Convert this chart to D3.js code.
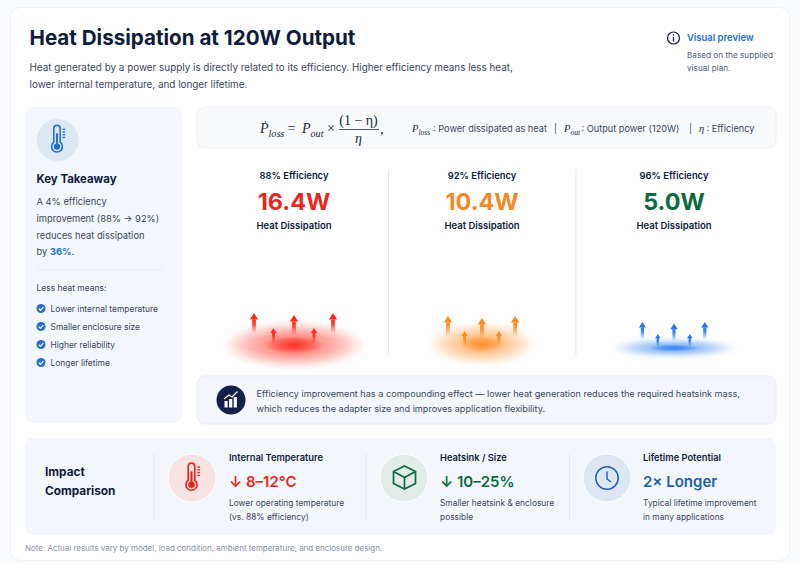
<!DOCTYPE html>
<html>
  <head>
    <meta charset="utf-8">
    <title>Heat Dissipation at 120W Output</title>
    <script src="https://d3js.org/d3.v7.min.js"></script>
    <style type="text/css">
      html, body { margin: 0; padding: 0; background: #f9fafc; }
      svg { display: block; font-family: 'Inter', sans-serif; }
    </style>
  </head>
  <body>
    <svg id="chart" width="800" height="564"></svg>
    <script type="text/javascript">
      var efficiencies = ['88% Efficiency', '92% Efficiency', '96% Efficiency'];
      var heatWatts = [16.4, 10.4, 5.0];
      var heatColors = ['#e8261c', '#f08a24', '#0b6b3f'];
      var glowColors = ['#ff2a1a', '#ff8a1c', '#1f78f0'];
      var benefits = ['Lower internal temperature', 'Smaller enclosure size', 'Higher reliability', 'Longer lifetime'];
      var impactTitles = ['Internal Temperature', 'Heatsink / Size', 'Lifetime Potential'];
      var impactValues = ['↓ 8–12°C', '↓ 10–25%', '2× Longer'];
      var impactNotes = [
        ['Lower operating temperature', '(vs. 88% efficiency)'],
        ['Smaller heatsink & enclosure', 'possible'],
        ['Typical lifetime improvement', 'in many applications']
      ];
      var impactColors = ['#e8261c', '#0b6b3f', '#1c5fb4'];
      var impactBacks = ['#f8e3e3', '#e2ece8', '#dde7f3'];

      var ink = '#101b3c';
      var body = '#3b465f';
      var svg = d3.select('#chart');
      var defs = svg.append('defs');

      function box (x, y, w, h, r, fill, stroke) {
        return svg.append('rect').attr('x', x).attr('y', y).attr('width', w).attr('height', h)
          .attr('rx', r).attr('fill', fill).attr('stroke', stroke || 'none');
      }

      function label (g, x, y, str, size, weight, color, anchor) {
        return g.append('text').attr('x', x).attr('y', y).text(str)
          .attr('font-size', size).attr('font-weight', weight).attr('fill', color)
          .attr('text-anchor', anchor || 'start');
      }

      // card and panels
      box(10.5, 7.5, 779, 553, 10, '#fefefe', '#edf0f5');
      box(25, 107, 157, 316, 8, '#f3f6fb');
      box(197, 107, 579, 41, 8, '#f8f9fb', '#edf0f4');
      box(197, 376, 579, 48, 8, '#f4f6fb', '#e9edf5');
      box(25, 438, 751, 97, 8, '#f3f6fb');

      // header
      label(svg, 29.5, 44.5, 'Heat Dissipation at 120W Output', 20.6, 700, ink);
      label(svg, 29.5, 71, 'Heat generated by a power supply is directly related to its efficiency. Higher efficiency means less heat,', 9.9, 400, body);
      label(svg, 29.5, 87.5, 'lower internal temperature, and longer lifetime.', 9.9, 400, body);

      svg.append('circle').attr('cx', 673.5).attr('cy', 38).attr('r', 6).attr('fill', 'none').attr('stroke', ink).attr('stroke-width', 1.2);
      svg.append('line').attr('x1', 673.5).attr('x2', 673.5).attr('y1', 37).attr('y2', 41.5).attr('stroke', ink).attr('stroke-width', 1.3);
      svg.append('circle').attr('cx', 673.5).attr('cy', 35).attr('r', 0.8).attr('fill', ink);
      label(svg, 687, 41, 'Visual preview', 9.45, 600, '#1f6fd6');
      label(svg, 687, 58, 'Based on the supplied', 8.2, 400, '#566076');
      label(svg, 687, 71, 'visual plan.', 8.2, 400, '#566076');

      // thermometer icon, shared by the takeaway panel and the impact row
      function thermometer (g, cx, cy, color, s) {
        var t = g.append('g').attr('transform', 'translate(' + cx + ',' + cy + ') scale(' + s + ')');
        t.append('path')
          .attr('d', 'M-4,-13 a4,4 0 0 1 8,0 V4 a6.8,6.8 0 1 1 -8,0 Z')
          .attr('fill', 'none').attr('stroke', color).attr('stroke-width', 2);
        t.append('circle').attr('cx', 0).attr('cy', 9.5).attr('r', 4).attr('fill', color);
        t.append('rect').attr('x', -1.3).attr('y', -7).attr('width', 2.6).attr('height', 15).attr('fill', color);
        d3.range(4).forEach(function (i) {
          t.append('rect').attr('x', 7).attr('y', -13 + i * 3.4).attr('width', 3.2).attr('height', 1.7).attr('fill', color);
        });
      }

      // key takeaway
      svg.append('circle').attr('cx', 57.5).attr('cy', 140).attr('r', 21).attr('fill', '#dde7f3');
      thermometer(svg, 57, 139, '#2370d0', 0.8);
      label(svg, 36.5, 182.5, 'Key Takeaway', 11.4, 700, ink);
      label(svg, 36.5, 205, 'A 4% efficiency', 9.35, 400, body);
      label(svg, 36.5, 222, 'improvement (88% → 92%)', 9.35, 400, body);
      label(svg, 36.5, 238.5, 'reduces heat dissipation', 9.35, 400, body);
      var last = label(svg, 36.5, 255, 'by ', 9.35, 400, body);
      last.append('tspan').text('36%').attr('font-weight', 700).attr('fill', '#2370d0');
      last.append('tspan').text('.');
      svg.append('line').attr('x1', 36.5).attr('x2', 163).attr('y1', 270).attr('y2', 270).attr('stroke', '#e8ecf3');
      label(svg, 36.5, 291, 'Less heat means:', 8.45, 400, body);

      var benefitY = d3.scalePoint().domain(benefits).range([308.5, 362.5]);
      var benefit = svg.selectAll('g.benefit').data(benefits).enter().append('g').attr('class', 'benefit')
        .attr('transform', function (d) { return 'translate(0,' + benefitY(d) + ')'; });
      benefit.append('circle').attr('cx', 41).attr('cy', 0).attr('r', 4.5).attr('fill', '#2370d0');
      benefit.append('path').attr('d', 'M38.8,0.1 L40.5,1.8 L43.3,-1.4').attr('fill', 'none').attr('stroke', '#fff').attr('stroke-width', 1.2);
      benefit.append('text').attr('x', 50.5).attr('y', 3.2).text(function (d) { return d; })
        .attr('font-size', 8.43).attr('fill', body);

      // formula
      var math = "'Liberation Serif', serif";
      function formula (x, y, size, main, sub) {
        var t = label(svg, x, y, main, size, 400, '#222a3c').attr('font-family', math).attr('font-style', 'italic');
        t.append('tspan').text(sub).attr('font-size', size * 0.72).attr('dy', size * 0.25);
        return t;
      }
      formula(260, 133, 14, 'Ṗ', 'loss');
      label(svg, 287.5, 133, '=', 14, 400, '#222a3c').attr('font-family', math);
      formula(302, 133, 14, 'P', 'out');
      label(svg, 327, 133, '×', 14, 400, '#222a3c').attr('font-family', math);
      label(svg, 358.5, 125, '(1 − η)', 14, 400, '#222a3c', 'middle').attr('font-family', math);
      svg.append('line').attr('x1', 339).attr('x2', 379).attr('y1', 129.5).attr('y2', 129.5).attr('stroke', '#222a3c').attr('stroke-width', 0.8);
      label(svg, 358.5, 143, 'η', 14, 400, '#222a3c', 'middle').attr('font-family', math).attr('font-style', 'italic');
      label(svg, 380, 134, ',', 14, 400, '#222a3c').attr('font-family', math);

      formula(412, 132, 10.5, 'P', 'loss');
      label(svg, 433, 132, ': Power dissipated as heat', 9.2, 400, body);
      label(svg, 554, 132, '|', 9.2, 400, body);
      formula(564, 132, 10.5, 'P', 'out');
      label(svg, 581.5, 132, ': Output power (120W)', 9.2, 400, body);
      label(svg, 689, 132, '|', 9.2, 400, body);
      formula(699, 132, 10.5, 'η', '');
      label(svg, 706.5, 132, ': Efficiency', 9.2, 400, body);

      // efficiency columns
      var columnX = d3.scaleOrdinal().domain(efficiencies).range([294, 482, 674]);
      var glowRx = d3.scaleOrdinal().domain(efficiencies).range([70, 53, 62]);
      var glowRy = d3.scaleOrdinal().domain(efficiencies).range([23, 21, 9]);
      var glowY = d3.scaleOrdinal().domain(efficiencies).range([345, 344, 348]);

      defs.append('filter').attr('id', 'soft').attr('x', '-20%').attr('y', '-40%').attr('width', '140%').attr('height', '180%')
        .append('feGaussianBlur').attr('stdDeviation', 2.5);

      [388.5, 576].forEach(function (x) {
        svg.append('line').attr('x1', x).attr('x2', x).attr('y1', 170).attr('y2', 355).attr('stroke', '#e8ebf1');
      });

      efficiencies.forEach(function (name, i) {
        var g = svg.append('g');
        var x = columnX(name);
        label(g, x, 179, name, 9.4, 600, ink, 'middle');
        label(g, x, 210, heatWatts[i].toFixed(1) + 'W', 23.4, 700, heatColors[i], 'middle');
        label(g, x, 229, 'Heat Dissipation', 9.5, 600, ink, 'middle');

        var grad = defs.append('radialGradient').attr('id', 'glow' + i);
        grad.append('stop').attr('offset', '0%').attr('stop-color', glowColors[i]).attr('stop-opacity', 0.8);
        grad.append('stop').attr('offset', '35%').attr('stop-color', glowColors[i]).attr('stop-opacity', 0.52);
        grad.append('stop').attr('offset', '70%').attr('stop-color', glowColors[i]).attr('stop-opacity', 0.28);
        grad.append('stop').attr('offset', '100%').attr('stop-color', glowColors[i]).attr('stop-opacity', 0);
        g.append('ellipse').attr('cx', x).attr('cy', glowY(name)).attr('rx', glowRx(name)).attr('ry', glowRy(name))
          .attr('fill', 'url(#glow' + i + ')').attr('filter', 'url(#soft)');
        g.append('ellipse').attr('cx', x).attr('cy', glowY(name)).attr('rx', glowRx(name) * 0.42).attr('ry', glowRy(name) * 0.38)
          .attr('fill', 'url(#glow' + i + ')');
        if (i === 0) {
          g.append('ellipse').attr('cx', x).attr('cy', glowY(name)).attr('rx', 51).attr('ry', 9)
            .attr('fill', 'none').attr('stroke', glowColors[i]).attr('stroke-opacity', 0.05);
        }

        var fade = defs.append('linearGradient').attr('id', 'fade' + i).attr('x1', 0).attr('x2', 0).attr('y1', 0).attr('y2', 1);
        fade.append('stop').attr('offset', '0%').attr('stop-color', glowColors[i]);
        fade.append('stop').attr('offset', '35%').attr('stop-color', glowColors[i]).attr('stop-opacity', 0.85);
        fade.append('stop').attr('offset', '100%').attr('stop-color', glowColors[i]).attr('stop-opacity', 0);

        // five arrows rising from the heat spot
        var s = i === 2 ? 0.85 : 1;
        var top = i === 0 ? 313 : (i === 1 ? 316 : 322);
        [[-40, 0, 1], [-20.5, 15, 0.75], [0, 2, 1], [20, 15, 0.75], [39, 0, 1]].forEach(function (a) {
          var ax = x + a[0] * (i === 0 ? 1 : (i === 1 ? 0.85 : 0.79));
          var ay = top + a[1] * (i === 2 ? 0.8 : 1);
          var k = a[2] * s;
          g.append('path').attr('d', 'M' + ax + ',' + ay + ' l' + (4.2 * k) + ',' + (6.5 * k) + ' h' + (-8.4 * k) + ' Z').attr('fill', glowColors[i]);
          g.append('rect').attr('x', ax - 1.9 * k).attr('y', ay + 6.5 * k).attr('width', 3.8 * k).attr('height', 14 * k)
            .attr('fill', 'url(#fade' + i + ')');
        });
      });

      // callout
      svg.append('circle').attr('cx', 231).attr('cy', 400).attr('r', 14.5).attr('fill', '#12204a');
      d3.range(3).forEach(function (i) {
        svg.append('rect').attr('x', 224.5 + i * 4.6).attr('y', 401 - i * 2).attr('width', 3.2).attr('height', 6.5 + i * 2).attr('fill', '#fff');
      });
      svg.append('path').attr('d', 'M224,399 L229,395 L232,397 L237.5,391.5').attr('fill', 'none').attr('stroke', '#fff').attr('stroke-width', 1.2);
      label(svg, 256.5, 396.5, 'Efficiency improvement has a compounding effect — lower heat generation reduces the required heatsink mass,', 9.15, 400, body);
      label(svg, 256.5, 411.5, 'which reduces the adapter size and improves application flexibility.', 9.15, 400, body);

      // impact comparison
      label(svg, 45, 476, 'Impact', 11.8, 700, ink);
      label(svg, 45, 494.5, 'Comparison', 11.8, 700, ink);

      var impactIcon = d3.scaleOrdinal().domain(impactTitles).range([192, 404, 607]);
      var impactText = d3.scaleOrdinal().domain(impactTitles).range([229, 440, 643]);
      [154, 366, 569.5].forEach(function (x) {
        svg.append('line').attr('x1', x).attr('x2', x).attr('y1', 454).attr('y2', 520).attr('stroke', '#e3e7ee');
      });

      impactTitles.forEach(function (name, i) {
        var g = svg.append('g');
        var x = impactText(name);
        var cx = impactIcon(name);
        g.append('circle').attr('cx', cx).attr('cy', 478).attr('r', 24).attr('fill', impactBacks[i]).attr('stroke', '#fff').attr('stroke-width', 1);
        label(g, x, 461, name, 9.3, 600, ink);
        label(g, x, 486.5, impactValues[i], 15, 600, impactColors[i]);
        label(g, x, 506, impactNotes[i][0], 8.4, 400, body);
        label(g, x, 519.5, impactNotes[i][1], 8.4, 400, body);
      });

      thermometer(svg, 191.5, 477, impactColors[0], 0.82);

      var cube = svg.append('g').attr('transform', 'translate(404.5,477.5)').attr('fill', 'none').attr('stroke', impactColors[1]).attr('stroke-width', 1.7);
      cube.append('path').attr('d', 'M0,-11.5 L11,-6 V6 L0,11.5 L-11,6 V-6 Z');
      cube.append('path').attr('d', 'M-11,-6 L0,0 L11,-6 M0,0 V11.5');

      var clock = svg.append('g').attr('transform', 'translate(607,478)').attr('fill', 'none').attr('stroke', impactColors[2]);
      clock.append('circle').attr('r', 11.2).attr('stroke-width', 1.5);
      clock.append('path').attr('d', 'M0,-6.5 V1 L4,4').attr('stroke-width', 1.4);

      label(svg, 25, 550.5, 'Note: Actual results vary by model, load condition, ambient temperature, and enclosure design.', 7.96, 400, '#8a93a6');
    </script>
  </body>
</html>
